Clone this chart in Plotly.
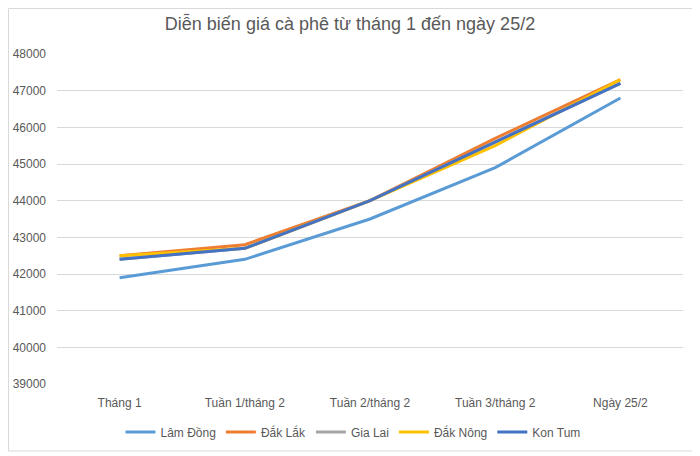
"""Coffee price trend chart: January to 25/2, by province."""

import plotly.graph_objects as go

# Data
categories = ["Tháng 1", "Tuần 1/tháng 2", "Tuần 2/tháng 2", "Tuần 3/tháng 2", "Ngày 25/2"]
lam_dong = [41900, 42400, 43500, 44900, 46800]
dak_lak = [42500, 42800, 44000, 45700, 47300]
gia_lai = [42400, 42700, 44000, 45600, 47200]
dak_nong = [42500, 42700, 44000, 45500, 47300]
kon_tum = [42400, 42700, 44000, 45600, 47200]
y_ticks = [39000, 40000, 41000, 42000, 43000, 44000, 45000, 46000, 47000, 48000]

series = [
    ("Lâm Đồng", lam_dong, "#5B9BD5"),
    ("Đắk Lắk", dak_lak, "#ED7D31"),
    ("Gia Lai", gia_lai, "#A5A5A5"),
    ("Đắk Nông", dak_nong, "#FFC000"),
    ("Kon Tum", kon_tum, "#4472C4"),
]

FONT = "Liberation Sans, Arial, sans-serif"
TEXT = "#595959"
GRID = "#D9D9D9"

fig = go.Figure()
for name, values, color in series:
    fig.add_trace(
        go.Scatter(
            x=categories,
            y=values,
            mode="lines",
            name=name,
            line={"color": color, "width": 3},
        )
    )

# the page body has an 8px margin, so the figure is drawn 8px in from the
# window corner; sizes below make the plot area land on x 57..683, y 54..384
OFF = 8
W, H = 700 - OFF, 456 - OFF
L, R, T, B = 57 - OFF, 17, 54 - OFF, 72
pw, ph = W - L - R, H - T - B

# light chart-area border, like the spreadsheet chart frame
fig.add_shape(
    type="rect",
    xref="paper",
    yref="paper",
    x0=(0.5 - L) / pw,
    x1=(697 - OFF - L) / pw,
    y0=(T + ph - (451 - OFF)) / ph,
    y1=(T + ph - 0.5) / ph,
    line={"color": GRID, "width": 1},
    layer="below",
)

fig.update_layout(
    width=W,
    height=H,
    autosize=False,
    title={
        "text": "Diễn biến giá cà phê từ tháng 1 đến ngày 25/2",
        "font": {"family": FONT, "size": 18, "color": TEXT},
        "x": (350 - OFF) / W,
        "xref": "container",
        "xanchor": "center",
        "y": 1 - (24 - OFF) / H,
        "yanchor": "middle",
    },
    font={"family": FONT, "size": 12, "color": TEXT},
    paper_bgcolor="white",
    plot_bgcolor="white",
    margin={"l": L, "r": R, "t": T, "b": B, "autoexpand": False},
    xaxis={
        "range": [-0.5, len(categories) - 0.5],
        "showgrid": False,
        "showline": False,
        "zeroline": False,
        "ticks": "",
        "tickangle": 0,
        "automargin": False,
        "ticklabelstandoff": 10,
        "tickfont": {"family": FONT, "size": 12, "color": TEXT},
    },
    yaxis={
        "range": [39000, 48000],
        "tickvals": y_ticks,
        "tickformat": "d",
        "gridcolor": GRID,
        "gridwidth": 1,
        "showline": False,
        "zeroline": False,
        "ticks": "",
        "automargin": False,
        "ticklabelstandoff": 10,
        "tickfont": {"family": FONT, "size": 12, "color": TEXT},
    },
    showlegend=True,
    legend={
        "orientation": "h",
        "x": (353 - 57) / pw,
        "xanchor": "center",
        "y": -48 / ph,
        "yanchor": "middle",
        "font": {"family": FONT, "size": 12, "color": TEXT},
    },
    hovermode="x unified",
)

fig.write_html("out.html")
